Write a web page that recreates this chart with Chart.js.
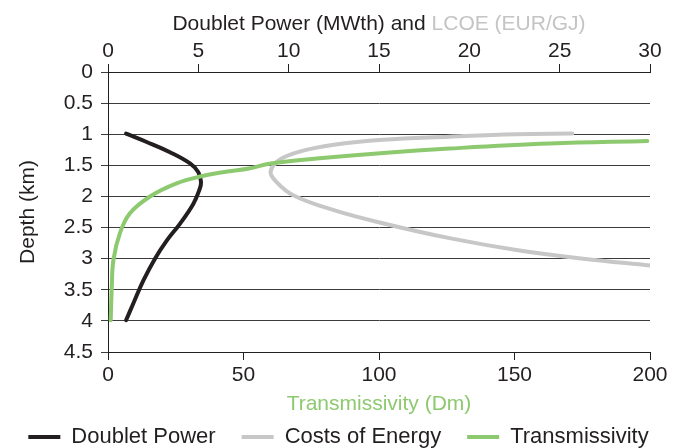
<!DOCTYPE html>
<html>
<head>
<meta charset="utf-8">
<script src="https://cdn.jsdelivr.net/npm/chart.js@4.4.1/dist/chart.umd.min.js"></script>
<style>
	html,body{margin:0;padding:0;background:#fff;}
	#box{width:677px;height:448px;}
</style>
</head>
<body>
<div id="box"><canvas id="depthChart" width="677" height="448"></canvas></div>
<script>
//doublet power (MWth) vs depth (km)
var powerDepth=[0.99,1.125,1.29,1.47,1.61,1.77,1.9,2.12,2.44,2.71,3.0,3.35,3.72,3.99];
var powerMW=[1.0,2.14,3.43,4.54,5.0,5.15,5.05,4.72,3.98,3.25,2.6,1.96,1.4,1.0];
//LCOE (EUR/GJ) vs depth
var lcoeDepth=[0.99,1.0,1.04,1.09,1.17,1.28,1.41,1.6,1.76,1.98,2.22,2.43,2.67,2.86,3.0,3.11];
var lcoeValue=[25.7,22.6,18.9,15.2,12.5,10.6,9.5,9.0,9.3,10.25,12.5,15.2,18.9,22.6,26.3,30];
//transmissivity (Dm) vs depth
var transDepth=[1.11,1.15,1.23,1.3,1.39,1.47,1.55,1.6,1.68,1.79,2.0,2.27,2.59,3.02,3.45,3.99];
var transDm=[199,163,126,101.6,77,60,52,44,34,25.3,15.5,8.1,4.4,2.0,1.4,1.0];
//刻度
var topTicks=[0,5,10,15,20,25,30];
var bottomTicks=[0,50,100,150,200];
var depthTicks=[0,0.5,1,1.5,2,2.5,3,3.5,4,4.5];

var ink="#231f20";
var fontFamily='"Liberation Sans", Arial, sans-serif';

//把两个数组拼成点
var toPoints=function(xs,ys){
	var pts=[];
	for (var i=0;i<xs.length;i++){
		pts.push({x:xs[i],y:ys[i]});
	}
	return pts;
};

//固定刻度
var fixTicks=function(list){
	return function(scale){
		scale.ticks=list.map(function(v){return {value:v};});
	};
};
var plainLabel=function(v){return String(v);};

//顶部两色标题
var topTitle={
	id:"topTitle",
	afterDraw:function(chart){
		var ctx=chart.ctx;
		var s=chart.scales.x2;
		var a="Doublet Power (MWth) and ";
		var b="LCOE (EUR/GJ)";
		ctx.save();
		ctx.font="21px "+fontFamily;
		ctx.textBaseline="middle";
		var wa=ctx.measureText(a).width;
		var wb=ctx.measureText(b).width;
		var x=(s.left+s.right)/2-(wa+wb)/2;
		ctx.fillStyle=ink;
		ctx.fillText(a,x,24);
		ctx.fillStyle="#c4c4c4";
		ctx.fillText(b,x+wa,24);
		ctx.restore();
	}
};

var axisGrid={drawOnChartArea:false,drawTicks:true,tickLength:8,color:ink,lineWidth:1};

var ctx=document.getElementById("depthChart").getContext("2d");
var myChart=new Chart(ctx,{
	type:"scatter",
	data:{
		datasets:[
			{
				label:"Doublet Power",
				data:toPoints(powerMW,powerDepth),
				xAxisID:"x2",
				borderColor:ink,
				backgroundColor:ink,
				borderWidth:4,
				borderCapStyle:"round",
				showLine:true,
				pointRadius:0,
				tension:0.4,
				order:2
			},
			{
				label:"Costs of Energy",
				data:toPoints(lcoeValue,lcoeDepth),
				xAxisID:"x2",
				borderColor:"#c7c7c7",
				backgroundColor:"#c7c7c7",
				borderWidth:4,
				borderCapStyle:"round",
				showLine:true,
				pointRadius:0,
				tension:0.4,
				order:3
			},
			{
				label:"Transmissivity",
				data:toPoints(transDm,transDepth),
				xAxisID:"x",
				borderColor:"#8dc96f",
				backgroundColor:"#8dc96f",
				borderWidth:4,
				borderCapStyle:"round",
				showLine:true,
				pointRadius:0,
				tension:0.4,
				order:1
			}
		]
	},
	options:{
		responsive:false,
		animation:false,
		layout:{padding:{left:0,right:0,top:0,bottom:-10}},
		plugins:{
			tooltip:{enabled:false},
			legend:{
				position:"bottom",
				labels:{
					usePointStyle:true,
					pointStyle:"line",
					pointStyleWidth:32,
					padding:26,
					color:ink,
					font:{family:fontFamily,size:22},
					sort:function(a,b){return a.datasetIndex-b.datasetIndex;}
				}
			}
		},
		scales:{
			x2:{
				type:"linear",
				position:"top",
				min:0,max:30,
				afterBuildTicks:fixTicks(topTicks),
				ticks:{color:ink,padding:0,maxRotation:0,callback:plainLabel,font:{family:fontFamily,size:21}},
				grid:axisGrid,
				border:{display:true,color:ink,width:1},
				afterFit:function(s){s.height=72;}
			},
			x:{
				type:"linear",
				position:"bottom",
				min:0,max:200,
				afterBuildTicks:fixTicks(bottomTicks),
				ticks:{color:ink,padding:3,maxRotation:0,callback:plainLabel,font:{family:fontFamily,size:21}},
				grid:axisGrid,
				border:{display:true,color:ink,width:1},
				title:{display:true,text:"Transmissivity (Dm)",color:"#8dc96f",padding:{top:0,bottom:-16.6},font:{family:fontFamily,size:21}},
				afterFit:function(s){
					var lh=s.chart.legend?s.chart.legend.height:0;
					s.height=458-352-lh;
				}
			},
			y:{
				type:"linear",
				position:"left",
				reverse:true,
				min:0,max:4.5,
				afterBuildTicks:fixTicks(depthTicks),
				ticks:{color:ink,padding:8,callback:plainLabel,font:{family:fontFamily,size:21}},
				grid:{drawOnChartArea:true,drawTicks:true,tickLength:7,color:"#3c3c3c",lineWidth:1},
				border:{display:true,color:ink,width:1},
				title:{display:true,text:"Depth (km)",color:ink,padding:{top:16,bottom:0},font:{family:fontFamily,size:21}},
				afterFit:function(s){s.width=108;}
			},
			//右边留白
			y2:{
				type:"linear",
				position:"right",
				min:0,max:1,
				ticks:{display:false},
				grid:{display:false},
				border:{display:false},
				afterFit:function(s){s.width=27;}
			}
		}
	},
	plugins:[topTitle]
});
</script>
</body>
</html>
